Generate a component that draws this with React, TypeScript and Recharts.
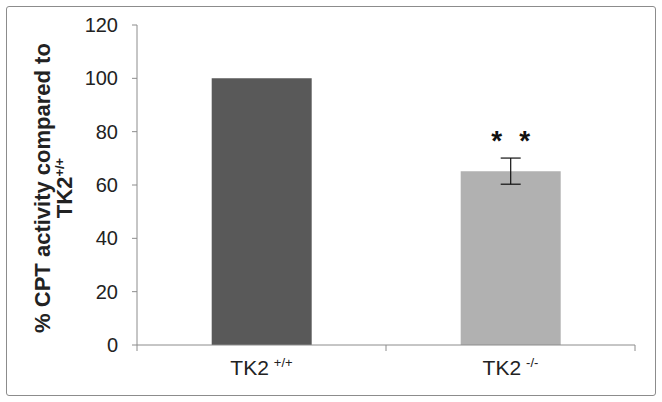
import { Bar, BarChart, ErrorBar, LabelList, XAxis, YAxis, Cell } from "recharts";

const genotypes = ["TK2", "TK2"];
const superscripts = ["+/+", "-/-"];
const activity = [100, 65.2];
const errors = [0, 4.9];
const significance = ["", "* *"];
const barColors = ["#595959", "#b1b1b1"];
const yTicks = [0, 20, 40, 60, 80, 100, 120];

const data = genotypes.map((g, i) => ({
  name: `${g}${superscripts[i]}`,
  base: g,
  sup: superscripts[i],
  value: activity[i],
  err: errors[i] || undefined,
  sig: significance[i],
}));

const W = 662;
const H = 402;
const PLOT_LEFT = 137;
const PLOT_RIGHT = 27;
const HALF_BAND = (W - PLOT_LEFT - PLOT_RIGHT) / data.length / 2;
const FONT = "Liberation Sans, Arial, sans-serif";

const XTick = (props: any) => {
  const { x, y, payload, index } = props;
  const d = data[index] ?? data.find((r) => r.name === payload.value);
  return (
    <g>
      <line x1={x + HALF_BAND} x2={x + HALF_BAND} y1={y - 8} y2={y - 2} stroke="#8c8c8c" />
      {index === 0 && (
        <line x1={x - HALF_BAND} x2={x - HALF_BAND} y1={y - 8} y2={y - 2} stroke="#8c8c8c" />
      )}
      <text x={x} y={y + 22} textAnchor="middle" fontSize={21} fill="#222" fontFamily={FONT}>
        <tspan>{d.base}</tspan>
        <tspan dx={5} dy={-8} fontSize={13}>{d.sup}</tspan>
      </text>
    </g>
  );
};

const YLabel = () => (
  <g transform="rotate(-90)" fontFamily={FONT} fontWeight="bold" fill="#222" fontSize={22}>
    <text x={-188} y={50} textAnchor="middle">
      % CPT activity compared to
    </text>
    <text x={-188} y={72} textAnchor="middle">
      TK2
      <tspan dy={-8} fontSize={13}>+/+</tspan>
    </text>
  </g>
);

const SigLabel = (props: any) => {
  const { x, y, width, index } = props;
  const s = data[index]?.sig;
  if (!s) return null;
  const cx = x + width / 2;
  return (
    <g fontSize={28} fontWeight="bold" fill="#111" fontFamily={FONT} textAnchor="middle">
      <text x={cx - 14} y={y - 21}>*</text>
      <text x={cx + 14} y={y - 21}>*</text>
    </g>
  );
};

export default function App() {
  return (
    <div style={{ position: "absolute", left: 0, top: 0, width: W, height: H, background: "#fff" }}>
      <div
        style={{
          position: "absolute",
          left: 6,
          top: 6,
          width: 648,
          height: 388,
          border: "1px solid #8c8c8c",
          borderRadius: 3,
        }}
      />
      <BarChart
        width={W}
        height={H}
        data={data}
        margin={{ top: 25, right: PLOT_RIGHT, left: 0, bottom: 27 }}
        barCategoryGap="30%"
        style={{ position: "absolute", left: 0, top: 0 }}
      >
        <XAxis
          dataKey="name"
          axisLine={{ stroke: "#8c8c8c" }}
          tickLine={false}
          tick={<XTick />}
          interval={0}
        />
        <YAxis
          width={PLOT_LEFT}
          domain={[0, 120]}
          ticks={yTicks}
          axisLine={{ stroke: "#8c8c8c" }}
          tickLine={{ stroke: "#8c8c8c" }}
          tickSize={5}
          tickMargin={14}
          tick={{ fontSize: 20, fill: "#222", fontFamily: FONT }}
          label={<YLabel />}
        />
        <Bar dataKey="value" isAnimationActive={false}>
          {data.map((_, i) => (
            <Cell key={i} fill={barColors[i]} />
          ))}
          <ErrorBar dataKey="err" width={10} stroke="#111" strokeWidth={1.2} direction="y" />
          <LabelList dataKey="sig" content={<SigLabel />} />
        </Bar>
      </BarChart>
    </div>
  );
}
